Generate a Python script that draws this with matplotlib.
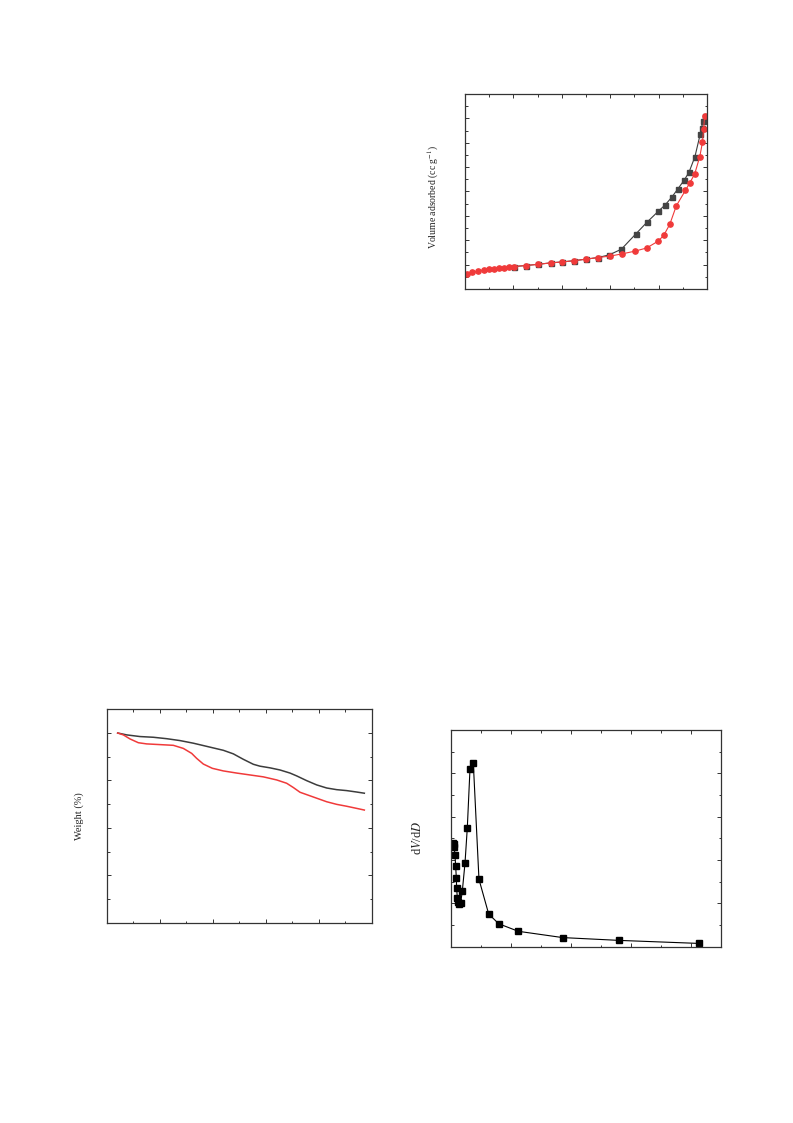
import matplotlib
matplotlib.use("Agg")
import matplotlib.pyplot as plt
from matplotlib.ticker import MultipleLocator

plt.rcParams['font.family'] = ['Liberation Serif', 'DejaVu Serif']
plt.rcParams['mathtext.fontset'] = 'stix'

# ---------------- Isotherm data (relative pressure, volume) ----------------
iso_ads_p = [0.007, 0.030, 0.055, 0.080, 0.100, 0.120, 0.142, 0.162, 0.183, 0.202,
             0.250, 0.301, 0.354, 0.402, 0.451, 0.498, 0.550, 0.601, 0.649, 0.702,
             0.750, 0.798, 0.821, 0.846, 0.873, 0.911, 0.928, 0.949, 0.970, 0.981,
             0.986, 0.990]
iso_ads_v = [30, 34, 37, 39, 40.5, 41.5, 42.5, 44, 44.5, 46,
             48, 50.5, 53.5, 55.5, 58, 61, 64.5, 67.5, 72, 77.5,
             84, 98, 110, 132.5, 170.5, 202.5, 217, 236, 271.5, 300.5,
             329, 355]
iso_des_p = [0.202, 0.250, 0.301, 0.354, 0.402, 0.451, 0.498, 0.550, 0.596, 0.646,
             0.706, 0.752, 0.799, 0.827, 0.854, 0.879, 0.906, 0.926, 0.950, 0.972,
             0.978, 0.982, 0.990]
iso_des_v = [46, 48, 50.5, 53.5, 55.5, 58, 61, 64.5, 70, 81.5,
             113, 137, 159.5, 172.5, 188, 205, 223.5, 240, 271.5, 318,
             331, 344.5, 355]

# ---------------- TGA data (temperature, weight %) ----------------
tga_a_t = [41.5, 75.5, 125.8, 176.1, 226.4, 276.7, 327.0, 364.8, 398.7, 440.3,
           478.0, 515.7, 553.5, 578.6, 616.4, 654.1, 691.8, 717.0, 754.7, 792.5,
           830.2, 867.9, 905.7, 943.4, 972.3]
tga_a_w = [100.0, 99.2, 98.5, 98.2, 97.6, 96.8, 95.7, 94.7, 93.8, 92.7,
           91.2, 88.9, 86.8, 86.0, 85.3, 84.4, 83.1, 81.9, 79.9, 78.1,
           76.8, 76.1, 75.7, 75.1, 74.6]
tga_b_t = [41.5, 62.9, 88.0, 119.5, 150.9, 201.3, 251.6, 289.3, 320.8, 339.6,
           364.8, 398.7, 440.3, 490.6, 540.9, 591.2, 641.5, 679.2, 704.4, 729.6,
           779.9, 830.2, 867.9, 905.7, 943.4, 972.3]
tga_b_w = [100.0, 99.2, 97.5, 95.9, 95.4, 95.1, 94.8, 93.5, 91.4, 89.3,
           86.9, 85.1, 84.0, 83.1, 82.3, 81.5, 80.2, 78.8, 77.0, 75.0,
           73.0, 71.0, 69.9, 69.1, 68.2, 67.5]

# ---------------- Pore size distribution (diameter, dV/dD) ----------------
psd_d = [0.67, 0.89, 1.00, 1.33, 1.56, 1.78, 1.89, 2.11, 2.44, 2.78,
         3.22, 3.78, 4.67, 5.44, 6.33, 7.44, 9.33, 12.56, 15.89, 22.44,
         37.22, 56.11, 82.78]
psd_v = [4.80, 4.62, 4.72, 4.23, 3.72, 3.17, 2.69, 2.26, 2.05, 1.95,
         2.02, 2.57, 3.85, 5.48, 8.18, 8.49, 3.11, 1.51, 1.06, 0.71,
         0.42, 0.29, 0.15]

DARK = '#3c3c3c'
RED = '#f03a3a'

fig = plt.figure(figsize=(7.93, 11.23), dpi=100)


def style(ax, xmaj, xmin, ymaj, ymin):
    ax.xaxis.set_major_locator(MultipleLocator(xmaj))
    ax.xaxis.set_minor_locator(MultipleLocator(xmin))
    ax.yaxis.set_major_locator(MultipleLocator(ymaj))
    ax.yaxis.set_minor_locator(MultipleLocator(ymin))
    ax.tick_params(which='both', direction='in', top=True, right=True,
                   labelbottom=False, labelleft=False, width=0.7, color='#333333')
    ax.tick_params(which='major', length=3.2)
    ax.tick_params(which='minor', length=1.8)
    for s in ax.spines.values():
        s.set_linewidth(0.9)
        s.set_color('#333333')


# Isotherm
ax1 = fig.add_axes([0.5864, 0.7427, 0.3052, 0.1736])
ax1.plot(iso_des_p, iso_des_v, color=DARK, lw=0.8, marker='s', ms=3.6,
         mfc='#444444', mec='#444444')
ax1.plot(iso_ads_p, iso_ads_v, color=RED, lw=0.8, marker='o', ms=3.8,
         mfc=RED, mec=RED)
ax1.set_xlim(0, 1.0)
ax1.set_ylim(0, 400)
style(ax1, 0.2, 0.1, 50, 25)
ax1.set_ylabel('Volume adsorbed (cc g$^{-1}$)', fontsize=7, color='#222222')
ax1.yaxis.set_label_coords(-0.10, 0.47)

# TGA
ax2 = fig.add_axes([0.1345, 0.1784, 0.3342, 0.1900])
ax2.plot(tga_a_t, tga_a_w, color=DARK, lw=1.1)
ax2.plot(tga_b_t, tga_b_w, color=RED, lw=1.1)
ax2.set_xlim(0, 1000)
ax2.set_ylim(20, 110)
style(ax2, 200, 100, 20, 10)
ax2.set_ylabel('Weight (%)', fontsize=7.5, color='#222222')
ax2.yaxis.set_label_coords(-0.086, 0.5)

# PSD
ax3 = fig.add_axes([0.5687, 0.1570, 0.3405, 0.1930])
ax3.plot(psd_d, psd_v, color='black', lw=0.8, marker='s', ms=3.8,
         mfc='black', mec='black')
ax3.set_xlim(0, 90)
ax3.set_ylim(0, 10)
style(ax3, 20, 10, 2, 1)
ax3.set_ylabel('d$V$/d$D$', fontsize=9, color='#222222')
ax3.yaxis.set_label_coords(-0.1, 0.5)

fig.savefig('out.png', dpi=100)
